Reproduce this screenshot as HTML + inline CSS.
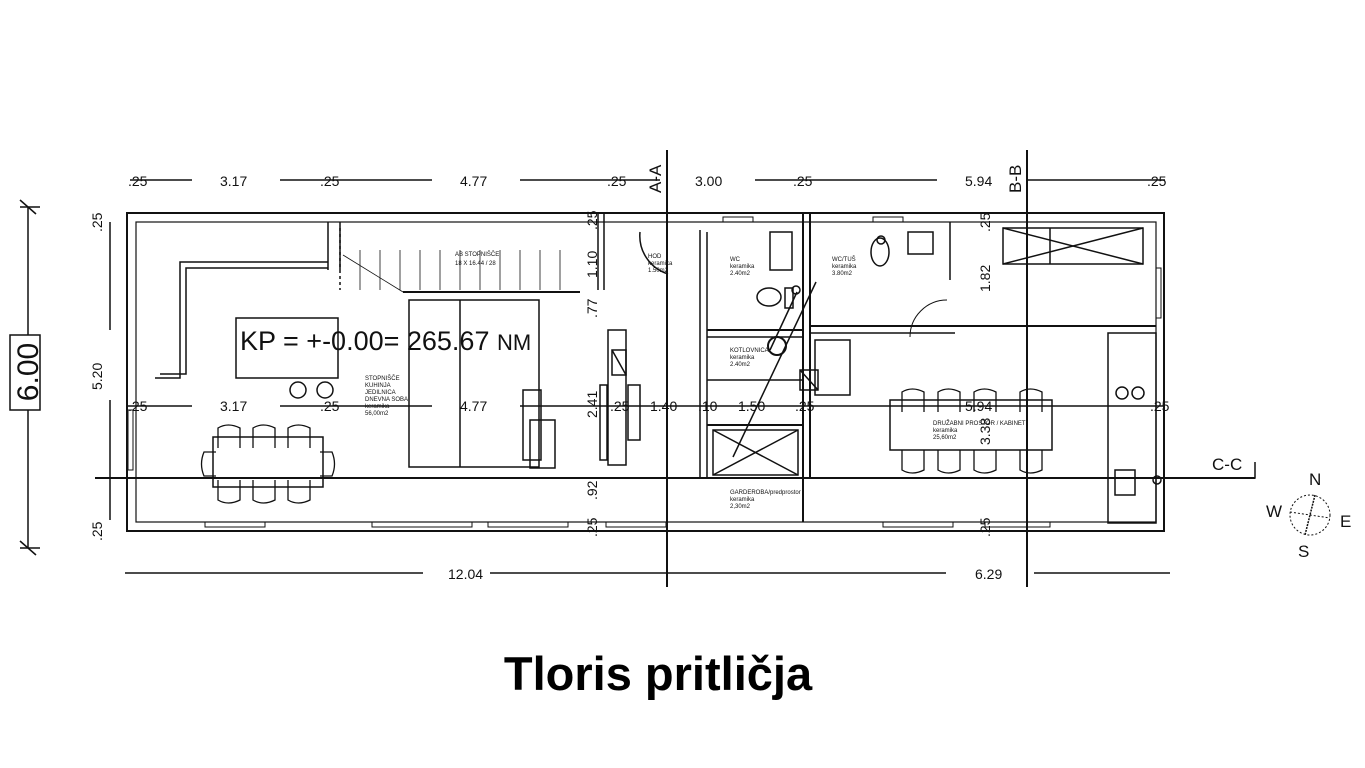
<!DOCTYPE html>
<html><head><meta charset="utf-8"><style>
body{margin:0;background:#fff;width:1365px;height:768px;overflow:hidden}
svg{position:absolute;left:0;top:0}
.t{font-family:"Liberation Sans",sans-serif;fill:#111}
</style></head><body>
<svg width="1365" height="768" viewBox="0 0 1365 768" xmlns="http://www.w3.org/2000/svg">
<g stroke="#111" fill="none" stroke-width="1.5">
<line x1="130" y1="180" x2="192" y2="180"/><line x1="280" y1="180" x2="432" y2="180"/><line x1="520" y1="180" x2="660" y2="180"/>
<line x1="755" y1="180" x2="937" y2="180"/><line x1="1027" y1="180" x2="1165" y2="180"/>
<line x1="128" y1="406" x2="192" y2="406"/><line x1="280" y1="406" x2="432" y2="406"/><line x1="520" y1="406" x2="1165" y2="406"/>
<line x1="125" y1="573" x2="423" y2="573"/><line x1="490" y1="573" x2="946" y2="573"/><line x1="1034" y1="573" x2="1170" y2="573"/>
<line x1="28" y1="207" x2="28" y2="335"/><line x1="28" y1="410" x2="28" y2="548"/>
<line x1="20" y1="207" x2="40" y2="207"/><line x1="20" y1="548" x2="40" y2="548"/>
<line x1="20" y1="200" x2="36" y2="214"/><line x1="20" y1="541" x2="36" y2="555"/>
<line x1="110" y1="222" x2="110" y2="330"/><line x1="110" y1="400" x2="110" y2="520"/>
<line x1="667" y1="150" x2="667" y2="587" stroke-width="2"/>
<line x1="1027" y1="150" x2="1027" y2="587" stroke-width="2"/>
<line x1="95" y1="478" x2="1255" y2="478" stroke-width="2"/>
<polyline points="1245,478 1255,478 1255,462"/>
<rect x="127" y="213" width="1037" height="318" stroke-width="2"/>
<rect x="136" y="222" width="1020" height="300" stroke-width="1.2"/>
<line x1="803" y1="213" x2="803" y2="522" stroke-width="2"/><line x1="810" y1="213" x2="810" y2="478" stroke-width="2"/>
<line x1="598" y1="213" x2="598" y2="290"/><line x1="604" y1="213" x2="604" y2="290"/>
<line x1="328" y1="222" x2="328" y2="270"/><line x1="340" y1="222" x2="340" y2="270"/>
<line x1="700" y1="230" x2="700" y2="478"/><line x1="707" y1="232" x2="707" y2="478"/>
<line x1="707" y1="330" x2="803" y2="330" stroke-width="2"/><line x1="707" y1="337" x2="803" y2="337"/>
<line x1="707" y1="380" x2="803" y2="380"/><line x1="707" y1="425" x2="803" y2="425" stroke-width="2"/>
<line x1="810" y1="326" x2="1156" y2="326" stroke-width="2"/><line x1="810" y1="333" x2="955" y2="333"/>
<line x1="950" y1="222" x2="950" y2="280"/>
<polyline points="155,378 180,378 180,262 328,262"/><polyline points="160,374 186,374 186,268 328,268"/>
<line x1="403" y1="292" x2="580" y2="292" stroke-width="2"/>
<rect x="409" y="300" width="130" height="167"/>
<line x1="460" y1="300" x2="460" y2="467"/>
<line x1="340" y1="228" x2="340" y2="290" stroke-dasharray="3,3"/>
<g stroke-width="0.8"><line x1="360" y1="250" x2="360" y2="290"/><line x1="380" y1="250" x2="380" y2="290"/><line x1="400" y1="250" x2="400" y2="290"/><line x1="420" y1="250" x2="420" y2="290"/><line x1="440" y1="250" x2="440" y2="290"/><line x1="460" y1="250" x2="460" y2="290"/><line x1="480" y1="250" x2="480" y2="290"/><line x1="500" y1="250" x2="500" y2="290"/><line x1="520" y1="250" x2="520" y2="290"/><line x1="540" y1="250" x2="540" y2="290"/><line x1="560" y1="250" x2="560" y2="290"/><line x1="343" y1="255" x2="403" y2="292"/></g>
<rect x="236" y="318" width="102" height="60"/>
<rect x="608" y="330" width="18" height="135"/><rect x="612" y="350" width="14" height="25"/>
<line x1="612" y1="350" x2="626" y2="375"/>
<rect x="628" y="385" width="12" height="55"/><rect x="600" y="385" width="7" height="75"/>
<rect x="523" y="390" width="18" height="70"/><rect x="530" y="420" width="25" height="48"/>
<circle cx="298" cy="390" r="8"/><circle cx="325" cy="390" r="8"/>
<rect x="213" y="437" width="110" height="50"/>
<g stroke-width="1.3">
<path d="M218 448 v-20 q10-6 22 0 v20"/><path d="M253 448 v-20 q10-6 22 0 v20"/><path d="M288 448 v-20 q10-6 22 0 v20"/>
<path d="M218 480 v20 q10 6 22 0 v-20"/><path d="M253 480 v20 q10 6 22 0 v-20"/><path d="M288 480 v20 q10 6 22 0 v-20"/>
<path d="M216 452 h-12 q-5 12 0 24 h12"/><path d="M320 452 h12 q5 12 0 24 h-12"/>
</g>
<rect x="890" y="400" width="162" height="50"/>
<g stroke-width="1.3">
<path d="M902 412 v-20 q10-6 22 0 v20"/><path d="M938 412 v-20 q10-6 22 0 v20"/><path d="M974 412 v-20 q10-6 22 0 v20"/><path d="M1020 412 v-20 q10-6 22 0 v20"/>
<path d="M902 450 v20 q10 6 22 0 v-20"/><path d="M938 450 v20 q10 6 22 0 v-20"/><path d="M974 450 v20 q10 6 22 0 v-20"/><path d="M1020 450 v20 q10 6 22 0 v-20"/>
</g>
<rect x="1003" y="228" width="140" height="36"/><line x1="1003" y1="228" x2="1143" y2="264"/><line x1="1003" y1="264" x2="1143" y2="228"/><line x1="1050" y1="228" x2="1050" y2="264"/>
<rect x="713" y="430" width="85" height="45"/><line x1="713" y1="430" x2="798" y2="475"/><line x1="713" y1="475" x2="798" y2="430"/>
<ellipse cx="769" cy="297" rx="12" ry="9"/><rect x="785" y="288" width="8" height="20"/><circle cx="796" cy="290" r="4"/>
<ellipse cx="880" cy="252" rx="9" ry="14"/><circle cx="881" cy="240" r="4"/>
<rect x="908" y="232" width="25" height="22"/><rect x="770" y="232" width="22" height="38"/>
<circle cx="777" cy="346" r="9" stroke-width="2"/>
<line x1="733" y1="457" x2="816" y2="282"/><line x1="770" y1="350" x2="797" y2="292"/>
<rect x="800" y="370" width="18" height="20"/><line x1="800" y1="370" x2="818" y2="390"/>
<rect x="815" y="340" width="35" height="55"/>
<path d="M947 300 a37 37 0 0 0 -37 37" stroke-width="1"/><path d="M640 232 a40 40 0 0 0 28 42"/>
<rect x="1108" y="333" width="48" height="190"/><circle cx="1122" cy="393" r="6"/><circle cx="1138" cy="393" r="6"/>
<rect x="1115" y="470" width="20" height="25"/><circle cx="1157" cy="480" r="4"/>
<g stroke-width="1"><rect x="205" y="522" width="60" height="5"/><rect x="372" y="522" width="100" height="5"/><rect x="488" y="522" width="80" height="5"/><rect x="606" y="522" width="60" height="5"/><rect x="883" y="522" width="70" height="5"/><rect x="985" y="522" width="65" height="5"/><rect x="723" y="217" width="30" height="5"/><rect x="873" y="217" width="30" height="5"/><rect x="1156" y="268" width="5" height="50"/><rect x="128" y="410" width="5" height="60"/></g>
<circle cx="1310" cy="515" r="20" stroke-dasharray="2,2" stroke-width="1"/>
<line x1="1315" y1="495" x2="1305" y2="535" stroke-dasharray="2,1"/><line x1="1290" y1="512" x2="1330" y2="518" stroke-dasharray="2,2" stroke-width="1"/>
</g>
<rect x="10" y="335" width="30" height="75" fill="#fff" stroke="#111" stroke-width="1.5"/>
<text class="t" transform="translate(38,372) rotate(-90)" font-size="30" text-anchor="middle">6.00</text>
<g class="t" font-size="14">
<text x="128" y="186">.25</text><text x="220" y="186">3.17</text><text x="320" y="186">.25</text><text x="460" y="186">4.77</text><text x="607" y="186">.25</text>
<text x="695" y="186">3.00</text><text x="793" y="186">.25</text><text x="965" y="186">5.94</text><text x="1147" y="186">.25</text>
<text x="128" y="411">.25</text><text x="220" y="411">3.17</text><text x="320" y="411">.25</text><text x="460" y="411">4.77</text><text x="610" y="411">.25</text>
<text x="650" y="411">1.40</text><text x="698" y="411">.10</text><text x="738" y="411">1.50</text><text x="795" y="411">.25</text><text x="965" y="411">5.94</text><text x="1150" y="411">.25</text>
<text x="448" y="579">12.04</text><text x="975" y="579">6.29</text>
<text transform="translate(102,232) rotate(-90)">.25</text><text transform="translate(102,390) rotate(-90)">5.20</text><text transform="translate(102,541) rotate(-90)">.25</text>
<text transform="translate(597,230) rotate(-90)">.25</text><text transform="translate(597,278) rotate(-90)">1.10</text><text transform="translate(597,318) rotate(-90)">.77</text><text transform="translate(597,418) rotate(-90)">2.41</text><text transform="translate(597,500) rotate(-90)">.92</text><text transform="translate(597,537) rotate(-90)">.25</text>
<text transform="translate(990,292) rotate(-90)">1.82</text><text transform="translate(990,232) rotate(-90)">.25</text><text transform="translate(990,445) rotate(-90)">3.38</text><text transform="translate(990,537) rotate(-90)">.25</text>
</g>
<g class="t" font-size="17"><text transform="translate(661,193) rotate(-90)">A-A</text><text transform="translate(1021,193) rotate(-90)">B-B</text>
<text x="1212" y="470">C-C</text>
<text x="1309" y="485">N</text><text x="1266" y="517">W</text><text x="1340" y="527">E</text><text x="1298" y="557">S</text></g>
<g class="t" font-size="6">
<text x="455" y="256">AB STOPNIŠČE</text><text x="455" y="265">18 X 16.44 / 28</text>
<text x="365" y="380">STOPNIŠČE</text><text x="365" y="387">KUHINJA</text><text x="365" y="394">JEDILNICA</text><text x="365" y="401">DNEVNA SOBA</text><text x="365" y="408">keramika</text><text x="365" y="415">56,00m2</text>
<text x="648" y="258">HOD</text><text x="648" y="265">keramika</text><text x="648" y="272">1.50m2</text>
<text x="730" y="261">WC</text><text x="730" y="268">keramika</text><text x="730" y="275">2.40m2</text>
<text x="832" y="261">WC/TUŠ</text><text x="832" y="268">keramika</text><text x="832" y="275">3.80m2</text>
<text x="730" y="352">KOTLOVNICA</text><text x="730" y="359">keramika</text><text x="730" y="366">2.40m2</text>
<text x="730" y="494">GARDEROBA/predprostor</text><text x="730" y="501">keramika</text><text x="730" y="508">2,30m2</text>
<text x="933" y="425">DRUŽABNI PROSTOR / KABINET</text><text x="933" y="432">keramika</text><text x="933" y="439">25,60m2</text>
</g>
<text class="t" x="240" y="350" font-size="27">KP = +-0.00= 265.67 <tspan font-size="22">NM</tspan></text>
<text x="658" y="690" text-anchor="middle" font-family="Liberation Sans,sans-serif" font-weight="bold" font-size="47" fill="#000">Tloris pritličja</text>
</svg>
</body></html>
